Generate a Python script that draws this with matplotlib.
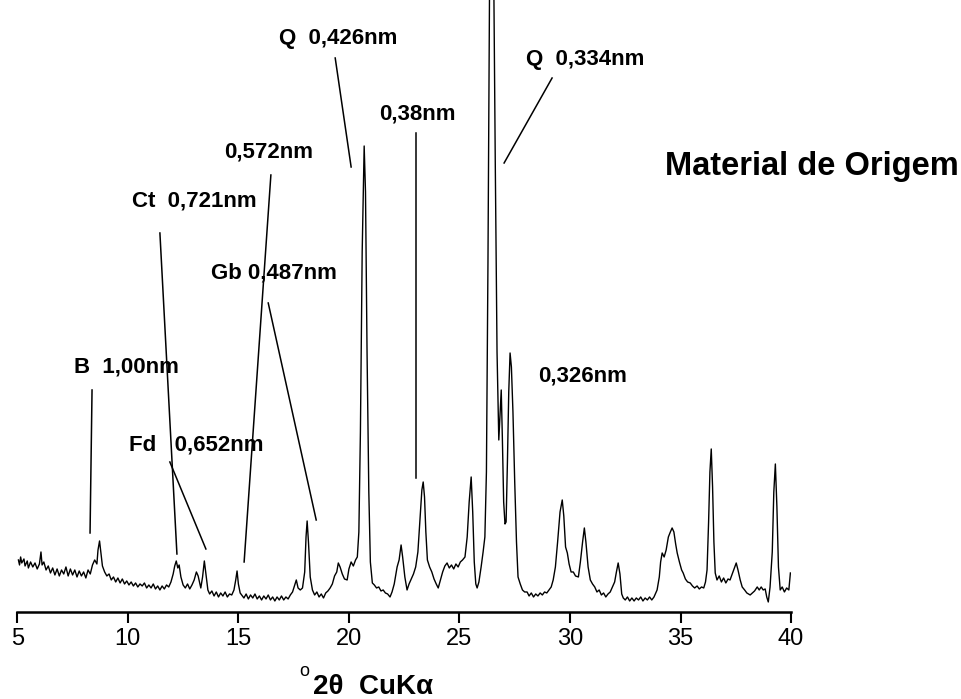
import matplotlib
matplotlib.use("Agg")
import matplotlib.pyplot as plt

plt.rcParams['font.family'] = ['Liberation Sans', 'DejaVu Sans']

# XRD scan (degrees 2theta, relative intensity)
two_theta = [
    5.05, 5.1, 5.15, 5.2, 5.3, 5.35, 5.45, 5.5, 5.6, 5.7, 5.8, 5.9, 6.0, 6.07, 6.12, 6.2,
    6.3, 6.4, 6.5, 6.6, 6.7, 6.8, 6.9, 7.0, 7.1, 7.2, 7.3, 7.4, 7.5, 7.6, 7.7, 7.8,
    7.9, 8.0, 8.1, 8.2, 8.3, 8.4, 8.5, 8.6, 8.65, 8.72, 8.8, 8.85, 8.95, 9.05, 9.15, 9.25,
    9.35, 9.45, 9.55, 9.65, 9.75, 9.85, 9.95, 10.05, 10.15, 10.25, 10.35, 10.45, 10.55, 10.65,
    10.75, 10.85, 10.95, 11.05, 11.15, 11.25, 11.35, 11.45, 11.55, 11.65, 11.75, 11.85, 11.95,
    12.05, 12.12, 12.19, 12.26, 12.32, 12.4, 12.5, 12.6, 12.7, 12.8, 12.9, 13.0, 13.1, 13.18,
    13.3, 13.38, 13.46, 13.53, 13.62, 13.7, 13.8, 13.9, 14.0, 14.1, 14.2, 14.3, 14.4, 14.5,
    14.6, 14.7, 14.8, 14.88, 14.94, 15.0, 15.08, 15.15, 15.25, 15.35, 15.45, 15.55, 15.65,
    15.75, 15.85, 15.95, 16.05, 16.15, 16.25, 16.35, 16.45, 16.55, 16.65, 16.75, 16.85, 16.95,
    17.05, 17.15, 17.25, 17.35, 17.45, 17.55, 17.62, 17.7, 17.8, 17.9, 18.0, 18.06, 18.11,
    18.17, 18.25, 18.35, 18.45, 18.55, 18.65, 18.75, 18.85, 18.95, 19.05, 19.15, 19.25, 19.35,
    19.45, 19.52, 19.6, 19.7, 19.8, 19.92, 20.0, 20.1, 20.2, 20.3, 20.38, 20.45, 20.52, 20.6,
    20.69, 20.75, 20.82, 20.9, 20.97, 21.06, 21.15, 21.25, 21.35, 21.45, 21.55, 21.65, 21.75,
    21.86, 21.95, 22.05, 22.18, 22.27, 22.36, 22.43, 22.53, 22.63, 22.72, 22.82, 22.92, 23.02,
    23.12, 23.22, 23.3, 23.36, 23.42, 23.48, 23.55, 23.65, 23.75, 23.85, 23.95, 24.04, 24.14,
    24.24, 24.34, 24.44, 24.54, 24.64, 24.74, 24.84, 24.94, 25.04, 25.14, 25.25, 25.35, 25.44,
    25.53, 25.6, 25.67, 25.74, 25.8, 25.88, 25.98, 26.07, 26.15, 26.22, 26.29, 26.36, 26.46,
    26.55, 26.62, 26.7, 26.78, 26.84, 26.89, 26.94, 27.0, 27.06, 27.11, 27.17, 27.23, 27.29,
    27.35, 27.42, 27.5, 27.58, 27.65, 27.75, 27.85, 27.95, 28.06, 28.15, 28.25, 28.35, 28.45,
    28.55, 28.65, 28.75, 28.85, 28.95, 29.05, 29.15, 29.24, 29.34, 29.44, 29.55, 29.65, 29.72,
    29.8, 29.88, 29.96, 30.05, 30.15, 30.25, 30.38, 30.47, 30.57, 30.65, 30.72, 30.82, 30.92,
    31.02, 31.12, 31.22, 31.32, 31.42, 31.52, 31.62, 31.72, 31.82, 31.92, 32.02, 32.1, 32.18,
    32.26, 32.34, 32.41, 32.5, 32.6, 32.7, 32.8, 32.9, 33.0, 33.1, 33.2, 33.3, 33.4, 33.5,
    33.6, 33.7, 33.8, 33.94, 34.04, 34.1, 34.17, 34.26, 34.35, 34.45, 34.54, 34.62, 34.7,
    34.78, 34.85, 34.95, 35.05, 35.12, 35.22, 35.32, 35.44, 35.54, 35.64, 35.75, 35.85, 35.95,
    36.05, 36.13, 36.2, 36.27, 36.33, 36.39, 36.45, 36.51, 36.57, 36.65, 36.75, 36.85, 36.95,
    37.05, 37.15, 37.24, 37.34, 37.44, 37.52, 37.6, 37.7, 37.79, 37.9, 38.0, 38.08, 38.15,
    38.25, 38.35, 38.47, 38.56, 38.65, 38.74, 38.83, 38.9, 38.97, 39.05, 39.15, 39.22, 39.29,
    39.36, 39.43, 39.51, 39.6, 39.7, 39.8, 39.9, 39.97,
]
intensity = [
    52, 47, 55, 49, 53, 46, 51, 44, 50, 45, 49, 43, 48, 60, 47, 50,
    42, 46, 39, 44, 37, 43, 36, 42, 38, 45, 36, 43, 37, 42, 35, 41,
    36, 40, 34, 42, 38, 47, 52, 48, 62, 71, 55, 46, 40, 36, 38, 32,
    35, 30, 34, 29, 33, 28, 31, 27, 30, 26, 29, 25, 28, 26,
    29, 24, 27, 24, 28, 23, 26, 22, 26, 23, 27, 25, 30,
    38, 46, 51, 44, 47, 35, 27, 24, 28, 23, 27, 32, 40, 36,
    24, 35, 51, 38, 22, 18, 21, 16, 20, 15, 19, 16, 20, 15,
    18, 17, 22, 32, 41, 28, 19, 17, 14, 18, 13, 17, 14,
    18, 13, 16, 12, 16, 13, 17, 12, 15, 11, 15, 12, 16,
    12, 15, 13, 17, 20, 27, 32, 24, 22, 24, 40, 75, 91,
    70, 35, 22, 17, 20, 15, 18, 14, 19, 21, 24, 28, 36,
    40, 49, 45, 38, 33, 32, 43, 50, 46, 52, 55, 80, 180, 360,
    466, 420, 260, 120, 50, 29, 27, 24, 25, 21, 22, 19, 18,
    15, 20, 28, 45, 52, 67, 55, 35, 22, 28, 33, 38, 45,
    60, 95, 122, 130, 115, 80, 52, 45, 40, 33, 28, 24, 32,
    40, 46, 49, 44, 47, 43, 48, 45, 50, 52, 55, 75, 110,
    135, 100, 50, 28, 24, 30, 45, 60, 75, 140, 350, 620, 760,
    640, 450, 260, 172, 200, 222, 175, 110, 88, 90, 150, 220, 259,
    245, 200, 130, 70, 35, 28, 22, 20, 20, 16, 19, 15, 18,
    16, 19, 17, 20, 19, 22, 25, 32, 45, 70, 100, 112, 96,
    65, 59, 48, 40, 40, 36, 35, 50, 70, 84, 70, 45, 32,
    28, 25, 20, 22, 17, 19, 15, 18, 20, 25, 30, 40, 49,
    38, 18, 14, 12, 15, 11, 14, 11, 14, 12, 15, 11, 14, 12,
    15, 12, 15, 22, 35, 50, 59, 55, 62, 75, 80, 84, 80,
    68, 59, 50, 42, 39, 33, 30, 29, 26, 24, 26, 23, 25,
    24, 30, 42, 90, 140, 163, 125, 70, 39, 32, 36, 30, 34,
    29, 33, 32, 38, 44, 49, 42, 32, 25, 22, 19, 18, 17,
    19, 21, 25, 22, 25, 22, 23, 15, 10, 25, 60, 120, 148,
    105, 45, 22, 25, 20, 24, 22, 39,
]

# phase labels and their leader lines (from label down to the peak)
labels = ['B  1,00nm', 'Ct  0,721nm', 'Fd   0,652nm', '0,572nm', 'Gb 0,487nm',
          'Q  0,426nm', '0,38nm', 'Q  0,334nm', '0,326nm']
label_x = [7.57, 10.19, 10.06, 14.35, 13.76, 16.84, 21.36, 28.02, 28.56]
label_y = [245, 411, 167, 460, 339, 573, 498, 552, 236]
line_x0 = [8.38, 11.45, 11.9, 16.47, 16.35, 19.38, 23.05, 29.19, None]
line_y0 = [222, 379, 150, 437, 309, 554, 479, 534, None]
line_x1 = [8.29, 12.22, 13.53, 15.26, 18.52, 20.1, 23.05, 27.02, None]
line_y1 = [79, 58, 63, 50, 92, 445, 134, 449, None]

fig = plt.figure(figsize=(9.62, 6.99), dpi=100)
ax = fig.add_axes([0.018, 0.1245, 0.8043, 0.8755])

ax.plot(two_theta, intensity, color='black', linewidth=1.0)

for i in range(len(labels)):
    ax.text(label_x[i], label_y[i], labels[i], fontsize=16, fontweight='bold',
            ha='left', va='center')
    if line_x0[i] is not None:
        ax.plot([line_x0[i], line_x1[i]], [line_y0[i], line_y1[i]],
                color='black', linewidth=1.1)

ax.set_xlim(5, 40)
ax.set_ylim(0, 612)
ax.set_xticks(range(5, 41, 5))
ax.set_yticks([])
for side in ['left', 'top', 'right']:
    ax.spines[side].set_visible(False)
ax.spines['bottom'].set_linewidth(1.8)
ax.tick_params(axis='x', length=8, width=1.5, pad=3.5, labelsize=17)

fig.text(959 / 962, 1 - 166 / 699, 'Material de Origem', fontsize=23.5,
         fontweight='bold', ha='right', va='center')
fig.text(299 / 962, 1 - 676 / 699, 'o', fontsize=13, ha='left', va='baseline')
fig.text(313 / 962, 1 - 694 / 699, '2θ  CuKα', fontsize=20, fontweight='bold',
         ha='left', va='baseline')

fig.savefig('out.png', dpi=100)
